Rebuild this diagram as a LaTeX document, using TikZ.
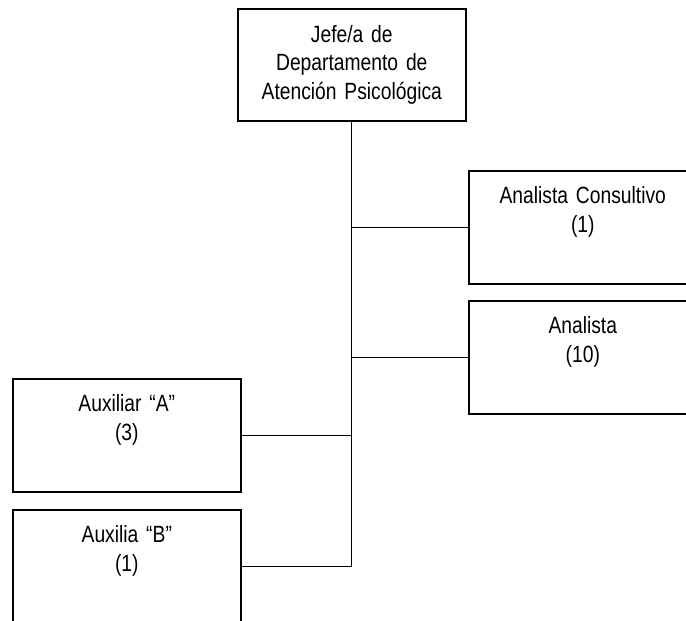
\documentclass[tikz,border=0pt]{standalone}
\usepackage{fontspec}
\setmainfont{Liberation Sans}[FakeStretch=0.82,WordSpace=0.8]
\begin{document}
\begin{tikzpicture}[x=1pt,y=-1pt,
  puesto/.style={draw, line width=1.6pt, anchor=north west, inner sep=0pt,
    text width=228pt, align=center, text height=33pt, text depth=80pt,
    font=\fontsize{23.5}{28.7}\selectfont},
  enlace/.style={line width=1.3pt}]
\clip (0,0) rectangle (686,621);
\node[puesto, text height=33.5pt, text depth=78.5pt] (jefe) at (237,8)
  {Jefe/a de\\Departamento de\\Atención Psicológica};
\node[puesto] (consultivo) at (468,170) {Analista Consultivo\\(1)};
\node[puesto] (analista) at (468,300) {Analista\\(10)};
\node[puesto] (auxa) at (12,378) {Auxiliar “A”\\(3)};
\node[puesto] (auxb) at (12,509) {Auxilia “B”\\(1)};
\draw[enlace] (jefe.south) -- (jefe.south |- auxb.east);
\foreach \n in {consultivo,analista} {
  \draw[enlace] (jefe.south |- \n.west) -- (\n.west);
}
\foreach \n in {auxa,auxb} {
  \draw[enlace] (jefe.south |- \n.east) -- (\n.east);
}
\end{tikzpicture}
\end{document}
